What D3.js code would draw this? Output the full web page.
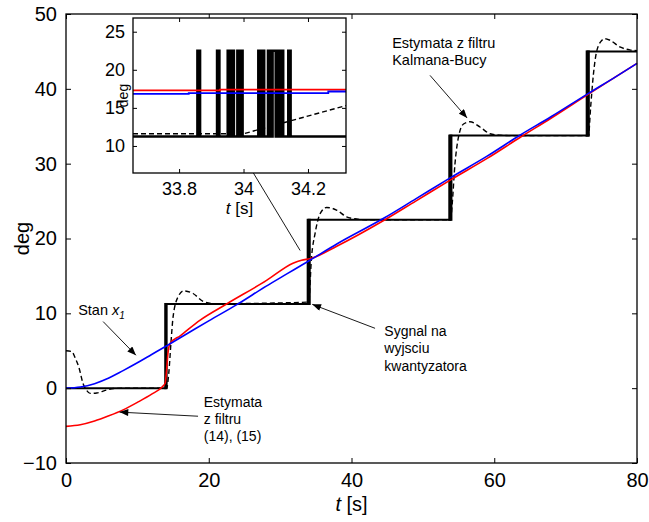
<!DOCTYPE html>
<html>
<head>
<meta charset="utf-8">
<script src="https://cdn.jsdelivr.net/npm/d3@7/dist/d3.min.js"></script>
<style>
  body { margin: 0; background: #fff; }
  text { font-family: "Liberation Sans", Arial, sans-serif; fill: #000; }
</style>
</head>
<body>
<div id="chart"></div>
<script>
// ---- main plot data ----
var quantLevels = [0, 11.25, 22.5, 33.75, 45];
var stepStart = [13.9, 33.86, 53.7, 72.95];
var stepEnd = [14.1, 34.15, 54.0, 73.25];

// state x1 (blue)
var stateT = [0, 2, 4, 6, 8, 10, 12, 14, 17, 20, 24, 28, 31, 34, 38, 44.5, 49, 54, 59, 63.6, 68, 73.2, 77, 80];
var stateV = [0, 0.15, 0.6, 1.35, 2.35, 3.4, 4.5, 5.6, 7.3, 9.0, 11.2, 13.6, 15.3, 17.0, 19.3, 22.7, 25.3, 28.2, 31.0, 33.8, 36.3, 39.4, 41.6, 43.4];

// estimate from filter (14), (15) (red)
var estT = [0, 2, 4, 6, 8, 10, 12, 13.5, 13.9, 14.1, 14.3, 14.6, 16, 18.8, 22.5, 28.1, 31.8, 33, 34.2, 38, 44.5, 49, 54, 59, 63.6, 68, 73.2, 77, 80];
var estV = [-5.1, -4.9, -4.4, -3.7, -2.9, -1.9, -0.8, 0.2, 0.7, 2.5, 4.8, 6.0, 7.0, 9.1, 11.25, 14.4, 16.7, 17.1, 17.3, 19.0, 22.4, 25.0, 27.9, 30.7, 33.5, 36.1, 39.3, 41.6, 43.4];

// Kalman-Bucy estimate (dashed)
var kbT = [0, 0.8, 1.3, 1.8, 2.4, 2.9, 3.4, 4.3, 5.5, 6.7, 8.5, 14.1, 14.4, 14.7, 15.0, 15.7, 16.5, 17.8, 19.2, 20.6, 22, 34.0, 34.4, 34.9, 35.6, 36.5, 37.9, 39.3, 40.7, 42, 53.9, 54.1, 54.5, 55.0, 55.7, 56.6, 58.0, 59.4, 60.8, 62, 73.2, 73.5, 73.9, 74.3, 75.0, 75.5, 76.2, 77.6, 79, 80];
var kbV = [5.0, 4.9, 4.0, 2.8, 0.6, -0.3, -0.7, -0.65, -0.3, -0.05, 0, 0, 2.0, 6.0, 9.5, 12.2, 13.0, 12.65, 11.6, 11.3, 11.3, 11.5, 17.5, 20.7, 23.3, 24.15, 23.8, 22.9, 22.6, 22.5, 22.5, 24.5, 30.0, 33.6, 35.3, 35.6, 34.9, 34.0, 33.8, 33.75, 33.75, 37.5, 42.0, 44.8, 46.4, 46.7, 46.5, 45.6, 45.2, 45.1];

var xTicks = [0, 20, 40, 60, 80];
var yTicks = [-10, 0, 10, 20, 30, 40, 50];

// ---- inset data ----
var insetToggles = [33.857, 33.865, 33.918, 33.925, 33.951, 33.957, 33.962, 33.970, 33.981, 33.986, 33.990, 33.997,
                    34.046, 34.052, 34.056, 34.064, 34.076, 34.084, 34.090, 34.100, 34.103, 34.110, 34.115, 34.123, 34.139, 34.146];
var insetRedT = [33.657, 33.927, 33.927, 34.318];
var insetRedV = [17.3, 17.3, 17.4, 17.4];
var insetBlueT = [33.657, 33.83, 33.83, 34.263, 34.263, 34.318];
var insetBlueV = [16.85, 16.85, 16.95, 16.95, 17.15, 17.15];
var insetKbT = [33.657, 34.0, 34.318];
var insetKbV = [11.6, 11.6, 15.3];
var insetXTicks = [33.8, 34, 34.2];
var insetYTicks = [10, 15, 20, 25];

// ---- annotations (data coordinates of main axes) ----
var arrows = [
  {from: [51.0, 41.8], to: [56.2, 36.1]},
  {from: [5.2, 8.9], to: [9.8, 4.4]},
  {from: [18.5, -3.75], to: [7.5, -3.2]},
  {from: [43.3, 8.0], to: [34.5, 11.2]},
  {from: [32.8, 18.4], to: [23.5, 33.1]}
];

var W = 649, H = 522;
var margin = {top: 14, right: 12, bottom: 59, left: 66},
    width = W - margin.left - margin.right,
    height = H - margin.top - margin.bottom;

var svg = d3.select("#chart").append("svg")
    .attr("width", W)
    .attr("height", H);

var defs = svg.append("defs");
defs.append("marker")
    .attr("id", "head")
    .attr("viewBox", "0 0 10 8")
    .attr("refX", 10).attr("refY", 4)
    .attr("markerWidth", 10).attr("markerHeight", 7)
    .attr("markerUnits", "userSpaceOnUse")
    .attr("orient", "auto")
  .append("path")
    .attr("d", "M0,0 L10,4 L0,8 Z")
    .attr("fill", "#000");

var g = svg.append("g")
    .attr("transform", "translate(" + margin.left + "," + margin.top + ")");

var x = d3.scaleLinear().domain([0, 80]).range([0, width]);
var y = d3.scaleLinear().domain([-10, 50]).range([height, 0]);

function zip(ts, vs) { return ts.map(function(t, i) { return [t, vs[i]]; }); }

// axes with inward ticks, mirrored
function drawAxes(sel, xs, ys, w, h, xt, yt, fs, tick) {
  sel.append("g").attr("transform", "translate(0," + h + ")")
    .call(d3.axisBottom(xs).tickValues(xt).tickSizeInner(-tick).tickSizeOuter(0).tickPadding(tick + 5).tickFormat(d3.format("")));
  sel.append("g")
    .call(d3.axisTop(xs).tickValues(xt).tickSizeInner(-tick).tickSizeOuter(0).tickFormat(""));
  sel.append("g")
    .call(d3.axisLeft(ys).tickValues(yt).tickSizeInner(-tick).tickSizeOuter(0).tickPadding(tick + 4).tickFormat(d3.format("")));
  sel.append("g").attr("transform", "translate(" + w + ",0)")
    .call(d3.axisRight(ys).tickValues(yt).tickSizeInner(-tick).tickSizeOuter(0).tickFormat(""));
  sel.selectAll(".domain").remove();
  sel.selectAll(".tick line").attr("stroke", "#000").attr("stroke-width", 1);
  sel.selectAll(".tick text").style("font-size", fs + "px").attr("fill", "#000")
    .style("font-family", '"Liberation Sans", Arial, sans-serif');
  sel.append("rect").attr("width", w).attr("height", h)
    .attr("fill", "none").attr("stroke", "#000").attr("stroke-width", 1.3);
}

// main quantizer signal: horizontal levels + chattering bands
var levelSegs = quantLevels.map(function(l, i) {
  return {l: l, t0: i === 0 ? 0 : stepStart[i - 1], t1: i === quantLevels.length - 1 ? 80 : stepEnd[i]};
});
g.selectAll(".lvl").data(levelSegs).enter().append("line")
    .attr("x1", function(d) { return x(d.t0); })
    .attr("x2", function(d) { return x(d.t1); })
    .attr("y1", function(d) { return y(d.l); })
    .attr("y2", function(d) { return y(d.l); })
    .attr("stroke", "#000").attr("stroke-width", 2);
g.selectAll(".band").data(stepStart).enter().append("rect")
    .attr("x", function(d) { return x(d) - 1; })
    .attr("width", function(d, i) { return x(stepEnd[i]) - x(d) + 2; })
    .attr("y", function(d, i) { return y(quantLevels[i + 1]) - 1; })
    .attr("height", function(d, i) { return y(quantLevels[i]) - y(quantLevels[i + 1]) + 2; })
    .attr("fill", "#000");

var smooth = d3.line().curve(d3.curveMonotoneX).x(function(d) { return x(d[0]); }).y(function(d) { return y(d[1]); });

g.append("path").datum(zip(kbT, kbV)).attr("d", smooth)
    .attr("fill", "none").attr("stroke", "#000").attr("stroke-width", 1.4).attr("stroke-dasharray", "5,3");
g.append("path").datum(zip(estT, estV)).attr("d", smooth)
    .attr("fill", "none").attr("stroke", "#ff0000").attr("stroke-width", 1.6);
g.append("path").datum(zip(stateT, stateV)).attr("d", smooth)
    .attr("fill", "none").attr("stroke", "#0000ff").attr("stroke-width", 1.6);

drawAxes(g, x, y, width, height, xTicks, yTicks, 20, 5);

// axis labels
var xl = svg.append("text").attr("x", margin.left + width / 2).attr("y", 511)
    .attr("text-anchor", "middle").style("font-size", "20px");
xl.append("tspan").style("font-style", "italic").text("t");
xl.append("tspan").text(" [s]");
svg.append("text").attr("transform", "translate(29," + (margin.top + height / 2) + ") rotate(-90)")
    .attr("text-anchor", "middle").style("font-size", "20px").text("deg");

// annotation texts
function label(t, v, lines, fs, lh) {
  var tx = g.append("text").attr("x", x(t)).attr("y", y(v)).style("font-size", fs + "px");
  lines.forEach(function(s, i) {
    tx.append("tspan").attr("x", x(t)).attr("dy", i === 0 ? 0 : lh).text(s);
  });
  return tx;
}
label(45.7, 45.4, ["Estymata z filtru", "Kalmana-Bucy"], 14.5, 17);
label(19.3, -2.5, ["Estymata", "z filtru", "(14), (15)"], 14, 17);
label(44.6, 7.0, ["Sygnal na", "wyjsciu", "kwantyzatora"], 14, 17.5);
var st = g.append("text").attr("x", x(1.7)).attr("y", y(9.75)).style("font-size", "14.5px");
st.append("tspan").text("Stan ");
st.append("tspan").style("font-style", "italic").text("x");
st.append("tspan").style("font-style", "italic").style("font-size", "10px").attr("dy", 4).text("1");

// ---- inset ----
var ins = {left: 133, top: 18, width: 213, height: 155};
var gi = svg.append("g").attr("transform", "translate(" + ins.left + "," + ins.top + ")");
gi.append("rect").attr("width", ins.width).attr("height", ins.height).attr("fill", "#fff");
defs.append("clipPath").attr("id", "insClip").append("rect")
    .attr("width", ins.width).attr("height", ins.height);

var xi = d3.scaleLinear().domain([33.657, 34.318]).range([0, ins.width]);
var yi = d3.scaleLinear().domain([6.45, 26.8]).range([ins.height, 0]);
var lineI = d3.line().x(function(d) { return xi(d[0]); }).y(function(d) { return yi(d[1]); });

var qPts = [[33.657, quantLevels[1]]], cur = quantLevels[1];
insetToggles.forEach(function(t) {
  qPts.push([t, cur]);
  cur = cur === quantLevels[1] ? quantLevels[2] : quantLevels[1];
  qPts.push([t, cur]);
});
qPts.push([34.318, cur]);

var gc = gi.append("g").attr("clip-path", "url(#insClip)");
gc.append("path").datum(qPts).attr("d", lineI)
    .attr("fill", "none").attr("stroke", "#000").attr("stroke-width", 2.6);
gc.append("path").datum(zip(insetKbT, insetKbV)).attr("d", lineI)
    .attr("fill", "none").attr("stroke", "#000").attr("stroke-width", 1.4).attr("stroke-dasharray", "5,3");
gc.append("path").datum(zip(insetRedT, insetRedV)).attr("d", lineI)
    .attr("fill", "none").attr("stroke", "#ff0000").attr("stroke-width", 1.8);
gc.append("path").datum(zip(insetBlueT, insetBlueV)).attr("d", lineI)
    .attr("fill", "none").attr("stroke", "#0000ff").attr("stroke-width", 1.8);

drawAxes(gi, xi, yi, ins.width, ins.height, insetXTicks, insetYTicks, 18, 4);

var xli = gi.append("text").attr("x", ins.width / 2).attr("y", 196)
    .attr("text-anchor", "middle").style("font-size", "17px");
xli.append("tspan").style("font-style", "italic").text("t");
xli.append("tspan").text(" [s]");
gi.append("text").attr("transform", "translate(-5," + (ins.height / 2) + ") rotate(-90)")
    .attr("text-anchor", "middle").style("font-size", "14px").text("deg");

// arrows on top
g.selectAll(".arrow").data(arrows).enter().append("line")
    .attr("x1", function(d) { return x(d.from[0]); })
    .attr("y1", function(d) { return y(d.from[1]); })
    .attr("x2", function(d) { return x(d.to[0]); })
    .attr("y2", function(d) { return y(d.to[1]); })
    .attr("stroke", "#000").attr("stroke-width", 0.9)
    .attr("marker-end", "url(#head)");
</script>
</body>
</html>
